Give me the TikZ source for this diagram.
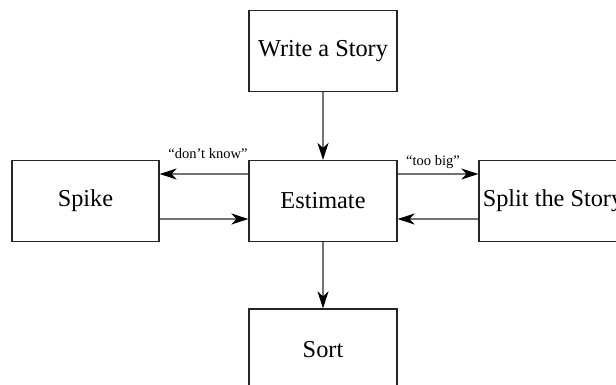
\documentclass[tikz,border=0pt]{standalone}
\usepackage{fontspec}
\setmainfont{Liberation Serif}
\usetikzlibrary{arrows.meta}
\begin{document}
\begin{tikzpicture}[x=1pt,y=-1pt,
  box/.style={draw=black!85, line width=1.2pt, minimum width=148pt, minimum height=81pt, inner sep=0pt, font=\fontsize{24.3}{27}\selectfont},
  conn/.style={draw=black!55, line width=1.6pt, -{Stealth[length=17pt,width=11pt,inset=5pt,black]}},
  lbl/.style={font=\fontsize{14.5}{16}\selectfont, inner sep=0pt, anchor=base}]
\clip (0,0) rectangle (616,385);
\fill[white] (0,0) rectangle (616,385);
\node[box] (write) at (323,51) {Write a Story};
\node[box] (est) at (323,201) {Estimate};
\node[box, minimum width=147pt] (spike) at (85.5,201) {Spike};
\node[box] (split) at (553,201) {Split the Story};
\node[box] (sort) at (323,349.5) {Sort};
\draw[conn] (write) -- (est);
\draw[conn] (est) -- (sort);
\draw[conn] ([yshift=27pt]est.west) -- node[lbl, yshift=15pt, xshift=4pt] (dk) {“don’t know”} ([yshift=27pt]spike.east);
\draw[conn] ([yshift=-18pt]spike.east) -- ([yshift=-18pt]est.west);
\draw[conn] ([yshift=27pt]est.east) -- node[lbl, yshift=8pt, xshift=-5pt] (tb) {“too big”} ([yshift=27pt]split.west);
\draw[conn] ([yshift=-18pt]split.west) -- ([yshift=-18pt]est.east);
\end{tikzpicture}
\end{document}
